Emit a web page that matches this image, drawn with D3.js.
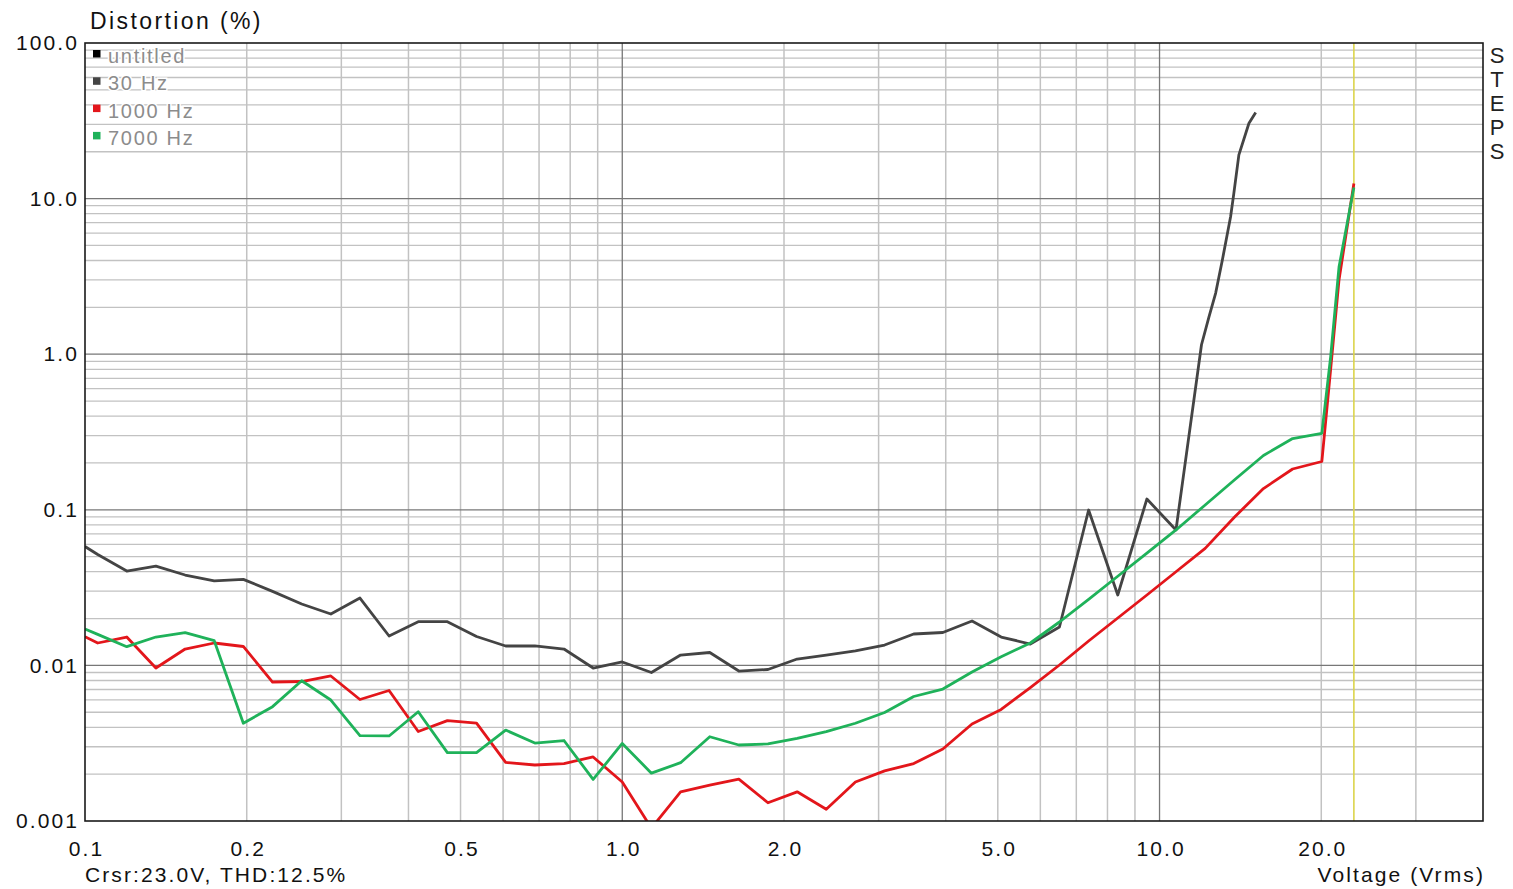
<!DOCTYPE html>
<html>
<head>
<meta charset="utf-8">
<script src="https://cdn.jsdelivr.net/npm/d3@7"></script>
<style>
  html, body { margin: 0; padding: 0; background: #ffffff; }
  svg { display: block; font-family: "Liberation Sans", Arial, Helvetica, sans-serif; }
</style>
</head>
<body>
<svg id="chart" width="1513" height="889"></svg>
<script>
// Stepped level sweep (Vrms), common to all three test frequencies
const sweepV = [0.1, 0.1056, 0.1196, 0.1355, 0.1536, 0.1740, 0.1971, 0.2234, 0.2531, 0.2868,
  0.3249, 0.3681, 0.4171, 0.4726, 0.5355, 0.6067, 0.6875, 0.7789, 0.8826, 1.000,
  1.133, 1.284, 1.455, 1.648, 1.867, 2.116, 2.397, 2.716, 3.078, 3.487,
  3.951, 4.477, 5.073, 5.748, 6.512, 7.379, 8.361, 9.473, 10.73];

// THD+N (%) at each sweep step
const thd30Hz = [0.0581, 0.0516, 0.0404, 0.0435, 0.0381, 0.0349, 0.0357, 0.0299, 0.0248, 0.0214,
  0.0271, 0.01545, 0.0191, 0.0191, 0.01534, 0.01333, 0.01333, 0.01274, 0.00962, 0.01052,
  0.00900, 0.01166, 0.01210, 0.00920, 0.00941, 0.01099, 0.01166, 0.01238, 0.01352, 0.01591,
  0.01627, 0.01929, 0.01522, 0.01372, 0.01765, 0.0997, 0.02835, 0.1173, 0.0742];
const thd1kHz = [0.01529, 0.01393, 0.01522, 0.00962, 0.01274, 0.01393, 0.01323, 0.00782, 0.00788, 0.00855,
  0.00604, 0.00690, 0.00376, 0.00442, 0.00426, 0.00238, 0.00229, 0.00234, 0.00258, 0.00178,
  0.00090, 0.00154, 0.00170, 0.00186, 0.00131, 0.00154, 0.00119, 0.00178, 0.00210, 0.00234,
  0.00290, 0.00420, 0.00521, 0.00720, 0.01006, 0.01435, 0.02017, 0.02835, 0.0400];
const thd7kHz = [0.01714, 0.01582, 0.01319, 0.01522, 0.01622, 0.01441, 0.00425, 0.00543, 0.00797, 0.00599,
  0.00354, 0.00352, 0.00504, 0.00275, 0.00275, 0.00384, 0.00317, 0.00329, 0.00185, 0.00315,
  0.00203, 0.00237, 0.00348, 0.00308, 0.00313, 0.00340, 0.00375, 0.00425, 0.00498, 0.00631,
  0.00705, 0.00907, 0.01137, 0.01393, 0.01901, 0.02656, 0.0374, 0.0526, 0.0742];

// 30 Hz run: finer steps once the amplifier starts clipping
const clip30HzV = [11.97, 12.36, 12.72, 13.09, 13.56, 13.75, 14.05, 14.67, 15.10];
const clip30Hz  = [1.15, 1.74, 2.47, 4.03, 7.65, 10.8, 19.1, 30.5, 35.7];

// 1 kHz and 7 kHz runs continue up to 23 V
const clipHiV  = [12.16, 13.78, 15.61, 17.69, 20.05, 20.82, 21.58, 23.0];
const clip1kHz = [0.0565, 0.0896, 0.1369, 0.1829, 0.2044, 0.80, 3.0, 12.5];
const clip7kHz = [0.1074, 0.1554, 0.2234, 0.2872, 0.3102, 0.959, 3.63, 11.8];

// Axis labels
const xTickValues = [0.1, 0.2, 0.5, 1, 2, 5, 10, 20];
const xTickLabels = ["0.1", "0.2", "0.5", "1.0", "2.0", "5.0", "10.0", "20.0"];
const yTickValues = [100, 10, 1, 0.1, 0.01, 0.001];
const yTickLabels = ["100.0", "10.0", "1.0", "0.1", "0.01", "0.001"];

// Legend
const legendNames  = ["untitled", "30 Hz", "1000 Hz", "7000 Hz"];
const legendColors = ["#000000", "#444444", "#e3161b", "#1fb25a"];

// Cursor readout
const cursorV = 23.0;
const cursorTHD = 12.5;

const svg = d3.select("#chart");
const W = 1513, H = 889;
const plot = { left: 85, top: 43, right: 1483, bottom: 821 };

const x = d3.scaleLog().domain([0.1, 40]).range([plot.left, plot.right]);
const y = d3.scaleLog().domain([0.001, 100]).range([plot.bottom, plot.top]);

const isDecade = v => Math.abs(Math.log10(v) - Math.round(Math.log10(v))) < 1e-9;

svg.append("rect").attr("width", W).attr("height", H).attr("fill", "#ffffff");

svg.append("defs").append("clipPath").attr("id", "plotClip")
  .append("rect")
  .attr("x", plot.left).attr("y", plot.top)
  .attr("width", plot.right - plot.left).attr("height", plot.bottom - plot.top);

// Grid
const grid = svg.append("g");
const xGrid = x.ticks().filter(v => v > 0.1 && v < 40);
const yGrid = y.ticks().filter(v => v > 0.001 && v < 100);

grid.selectAll("line.vminor").data(xGrid.filter(v => !isDecade(v))).join("line")
  .attr("x1", d => x(d)).attr("x2", d => x(d))
  .attr("y1", plot.top).attr("y2", plot.bottom)
  .attr("stroke", "#c2c2c2").attr("stroke-width", 1.5);
grid.selectAll("line.hminor").data(yGrid.filter(v => !isDecade(v))).join("line")
  .attr("x1", plot.left).attr("x2", plot.right)
  .attr("y1", d => y(d)).attr("y2", d => y(d))
  .attr("stroke", "#c2c2c2").attr("stroke-width", 1.3);
grid.selectAll("line.vmajor").data(xGrid.filter(isDecade)).join("line")
  .attr("x1", d => x(d)).attr("x2", d => x(d))
  .attr("y1", plot.top).attr("y2", plot.bottom)
  .attr("stroke", "#777777").attr("stroke-width", 1.3);
grid.selectAll("line.hmajor").data(yGrid.filter(isDecade)).join("line")
  .attr("x1", plot.left).attr("x2", plot.right)
  .attr("y1", d => y(d)).attr("y2", d => y(d))
  .attr("stroke", "#777777").attr("stroke-width", 1.3);

// Cursor
svg.append("line")
  .attr("x1", x(cursorV)).attr("x2", x(cursorV))
  .attr("y1", plot.top).attr("y2", plot.bottom)
  .attr("stroke", "#dcd44c").attr("stroke-width", 1.6);

// Curves
const line = d3.line().x(d => x(d[0])).y(d => y(d[1]));
const series = [
  { color: legendColors[1], pts: d3.zip(sweepV, thd30Hz).concat(d3.zip(clip30HzV, clip30Hz)) },
  { color: legendColors[2], pts: d3.zip(sweepV, thd1kHz).concat(d3.zip(clipHiV, clip1kHz)) },
  { color: legendColors[3], pts: d3.zip(sweepV, thd7kHz).concat(d3.zip(clipHiV, clip7kHz)) }
];
svg.append("g").attr("clip-path", "url(#plotClip)")
  .selectAll("path").data(series).join("path")
  .attr("d", d => line(d.pts))
  .attr("fill", "none")
  .attr("stroke", d => d.color)
  .attr("stroke-width", 2.8)
  .attr("stroke-linejoin", "round");

// Frame
svg.append("rect")
  .attr("x", plot.left).attr("y", plot.top)
  .attr("width", plot.right - plot.left).attr("height", plot.bottom - plot.top)
  .attr("fill", "none").attr("stroke", "#1a1a1a").attr("stroke-width", 1.6);

// Axes (labels only)
const labelStyle = sel => sel
  .attr("font-family", "\"Liberation Sans\", Arial, sans-serif")
  .attr("font-size", 21)
  .attr("letter-spacing", "2.1px")
  .attr("fill", "#111111");

const yAxis = svg.append("g")
  .attr("transform", `translate(${plot.left},0)`)
  .call(d3.axisLeft(y).tickValues(yTickValues).tickFormat((d, i) => yTickLabels[i])
    .tickSize(0).tickPadding(6));
yAxis.select(".domain").remove();
yAxis.selectAll("text").call(labelStyle);

const xAxis = svg.append("g")
  .attr("transform", `translate(0,${plot.bottom})`)
  .call(d3.axisBottom(x).tickValues(xTickValues).tickFormat((d, i) => xTickLabels[i])
    .tickSize(0));
xAxis.select(".domain").remove();
xAxis.selectAll("text").attr("dy", null).attr("y", 35).attr("dx", 1).call(labelStyle);

// Titles
svg.append("text")
  .attr("x", 90).attr("y", 29)
  .attr("font-size", 23).attr("letter-spacing", "2.4px").attr("fill", "#111111")
  .text("Distortion (%)");

svg.append("text")
  .attr("x", plot.right + 2).attr("y", 882)
  .attr("text-anchor", "end")
  .call(labelStyle)
  .text("Voltage (Vrms)");

svg.append("text")
  .attr("x", 85).attr("y", 882)
  .call(labelStyle)
  .text(`Crsr:${cursorV.toFixed(1)}V, THD:${cursorTHD.toFixed(1)}%`);

// Side label
svg.append("g").selectAll("text").data("STEPS".split("")).join("text")
  .attr("x", 1497).attr("y", (d, i) => 63 + i * 24)
  .attr("text-anchor", "middle")
  .attr("font-size", 22).attr("fill", "#222222")
  .text(d => d);

// Legend
const legend = svg.append("g").selectAll("g").data(legendNames).join("g")
  .attr("transform", (d, i) => `translate(0,${63 + i * 27.3})`);
legend.append("rect")
  .attr("x", 93).attr("y", -13).attr("width", 7.5).attr("height", 7.5)
  .attr("fill", (d, i) => legendColors[i]);
legend.append("text")
  .attr("x", 108).attr("y", 0)
  .attr("font-size", 20).attr("letter-spacing", "1.7px")
  .attr("fill", "#8c8c8c")
  .attr("stroke", "#ffffff").attr("stroke-width", 3).attr("paint-order", "stroke")
  .text(d => d);
</script>
</body>
</html>
